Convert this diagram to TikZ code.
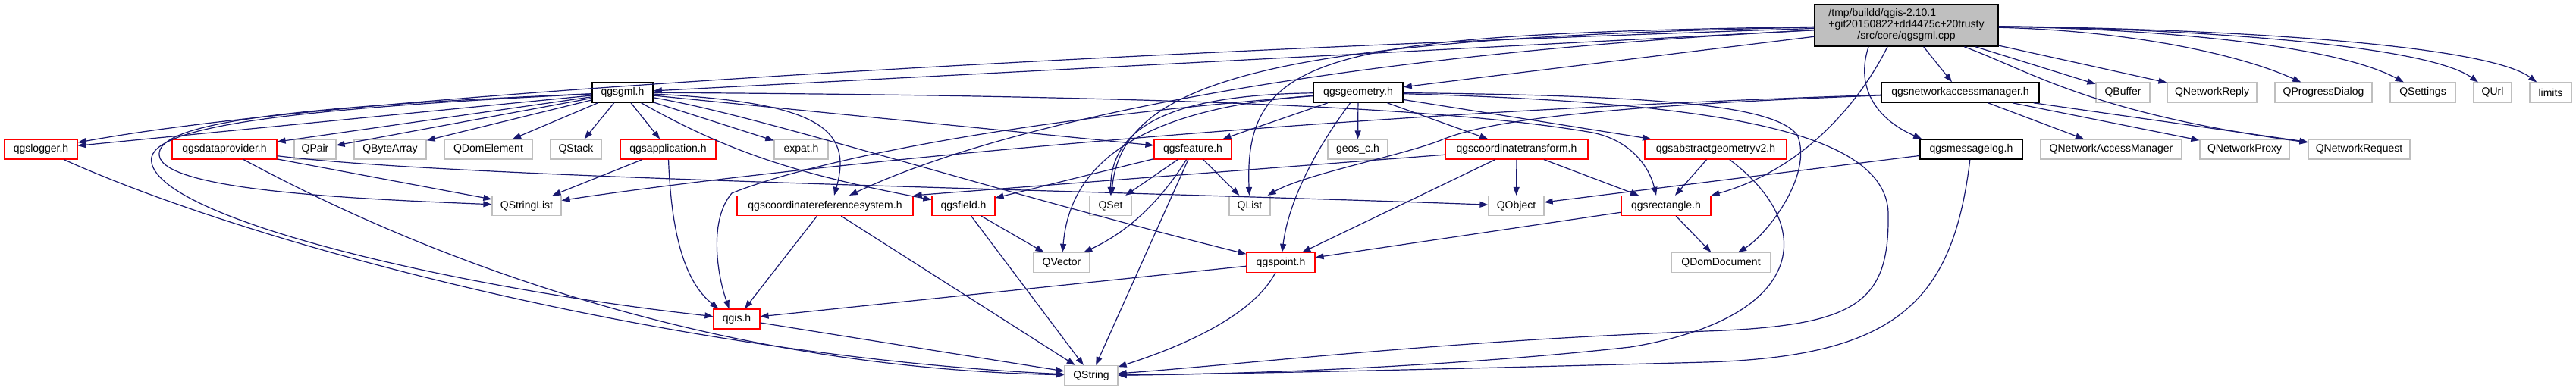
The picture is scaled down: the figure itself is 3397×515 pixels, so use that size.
\documentclass[tikz,border=0pt]{standalone}
\usepackage{fontspec}
\setmainfont{Liberation Sans}
\usetikzlibrary{arrows.meta}

\definecolor{edgeblue}{HTML}{191970}
\definecolor{boxgrey}{HTML}{BFBFBF}

\begin{document}
\begin{tikzpicture}[
        x=1pt, y=-1pt,
        box/.style={rectangle, draw=black, line width=1.6pt, fill=white, inner sep=0pt, minimum height=26pt, align=center, font=\fontsize{14}{16}\selectfont},
        redbox/.style={box, draw=red, line width=1.2pt},
        greybox/.style={box, draw=boxgrey, line width=1.2pt},
        arrow/.style={-{Triangle[length=11pt,width=8pt]}, draw=edgeblue, line width=1.2pt}
    ]
        \path[fill=white] (0,0) rectangle (3397,515);
        \useasboundingbox (0,0) rectangle (3397,515);

        % Nodes
        \node[box, fill=boxgrey, minimum width=242pt, minimum height=55pt, font=\fontsize{14}{14.7}\selectfont] (root) at (2514,33.5)
            {\begin{tabular}{@{}l@{}}/tmp/buildd/qgis-2.10.1\\+git20150822+dd4475c+20trusty\\\multicolumn{1}{@{}c@{}}{/src/core/qgsgml.cpp}\end{tabular}};

        \node[box, minimum width=80pt] (gml) at (821,122) {qgsgml.h};
        \node[box, minimum width=118pt] (geometry) at (1791,122) {qgsgeometry.h};
        \node[box, minimum width=208pt] (netmanager) at (2585,122) {qgsnetworkaccessmanager.h};
        \node[greybox, minimum width=71pt] (qbuffer) at (2799.5,122) {QBuffer};
        \node[greybox, minimum width=118pt] (qreply) at (2917,122) {QNetworkReply};
        \node[greybox, minimum width=128pt] (qprogress) at (3064,122) {QProgressDialog};
        \node[greybox, minimum width=86pt] (qsettings) at (3195,122) {QSettings};
        \node[greybox, minimum width=50pt] (qurl) at (3287,122) {QUrl};
        \node[greybox, minimum width=55pt] (limits) at (3363.5,122) {limits};

        \node[redbox, minimum width=96pt] (logger) at (54,197) {qgslogger.h};
        \node[redbox, minimum width=138pt] (dataprovider) at (296,197) {qgsdataprovider.h};
        \node[greybox, minimum width=55pt] (qpair) at (415.5,197) {QPair};
        \node[greybox, minimum width=95pt] (qbytearray) at (514.5,197) {QByteArray};
        \node[greybox, minimum width=116pt] (qdomelement) at (644,197) {QDomElement};
        \node[greybox, minimum width=67pt] (qstack) at (759.5,197) {QStack};
        \node[redbox, minimum width=126pt] (application) at (881,197) {qgsapplication.h};
        \node[greybox, minimum width=71pt] (expat) at (1056.5,197) {expat.h};
        \node[redbox, minimum width=102pt] (feature) at (1573,197) {qgsfeature.h};
        \node[greybox, minimum width=79pt] (geos) at (1790.5,197) {geos\_c.h};
        \node[redbox, minimum width=188pt] (ctransform) at (2000,197) {qgscoordinatetransform.h};
        \node[redbox, minimum width=187pt] (absgeom) at (2262.5,197) {qgsabstractgeometryv2.h};
        \node[box, minimum width=135pt] (msglog) at (2599.5,197) {qgsmessagelog.h};
        \node[greybox, minimum width=186pt] (qnam) at (2784,197) {QNetworkAccessManager};
        \node[greybox, minimum width=118pt] (qproxy) at (2960,197) {QNetworkProxy};
        \node[greybox, minimum width=134pt] (qrequest) at (3111,197) {QNetworkRequest};

        \node[greybox, minimum width=91pt] (qstringlist) at (694.5,271.5) {QStringList};
        \node[redbox, minimum width=232pt] (crs) at (1088,271.5) {qgscoordinatereferencesystem.h};
        \node[redbox, minimum width=83pt] (field) at (1270.5,271.5) {qgsfield.h};
        \node[greybox, minimum width=55pt] (qset) at (1464.5,271.5) {QSet};
        \node[greybox, minimum width=54pt] (qlist) at (1648,271.5) {QList};
        \node[greybox, minimum width=73pt] (qobject) at (1999.5,271.5) {QObject};
        \node[redbox, minimum width=118pt] (rect) at (2197,271.5) {qgsrectangle.h};

        \node[greybox, minimum width=74pt] (qvector) at (1400,346.5) {QVector};
        \node[redbox, minimum width=90pt] (point) at (1689,346.5) {qgspoint.h};
        \node[greybox, minimum width=131pt] (qdomdoc) at (2269.5,346.5) {QDomDocument};

        \node[redbox, minimum width=61pt] (qgis) at (971.5,421) {qgis.h};
        \node[greybox, minimum width=70pt] (qstring) at (1439,495.5) {QString};

        % Connectors
        % qgsgml.cpp
        \draw[arrow] (root) -- (gml);
        \draw[arrow] (root) .. controls (1700,60) and (500,115) .. (logger);
        \draw[arrow] (root) -- (geometry);
        \draw[arrow] (root) .. controls (1800,70) and (1350,150) .. ([xshift=32pt]crs.north);
        \draw[arrow] (root) .. controls (1700,50) and (1480,100) .. (qset);
        \draw[arrow] (root) .. controls (1750,45) and (1640,70) .. (qlist);
        \draw[arrow] ([xshift=-25pt]root.south) .. controls (2460,120) and (2390,220) .. (rect.north east);
        \draw[arrow] ([xshift=-50pt]root.south) .. controls (2445,120) and (2480,160) .. ([xshift=3pt]msglog.north west);
        \draw[arrow] (root) -- (netmanager);
        \draw[arrow] (root) -- (qbuffer);
        \draw[arrow] (root) -- (qreply);
        \draw[arrow] (root) .. controls (2800,40) and (2950,70) .. (qprogress);
        \draw[arrow] (root) .. controls (2850,38) and (3080,60) .. (qsettings);
        \draw[arrow] (root) .. controls (2900,38) and (3200,60) .. (qurl);
        \draw[arrow] (root) .. controls (2950,38) and (3280,60) .. (limits);
        \draw[arrow] (root) .. controls (2680,95) and (2760,150) .. (qrequest);

        % qgsgml.h
        \draw[arrow] (gml) -- (logger);
        \draw[arrow] (gml) .. controls (400,140) and (205,160) .. (210,205) .. controls (215,250) and (450,262) .. (qstringlist);
        \draw[arrow] (gml) .. controls (350,145) and (190,170) .. (200,215) .. controls (215,290) and (600,380) .. (qgis);
        \draw[arrow] (gml) -- (dataprovider);
        \draw[arrow] (gml) -- (qpair);
        \draw[arrow] (gml) -- (qbytearray);
        \draw[arrow] (gml) -- (qdomelement);
        \draw[arrow] (gml) -- (qstack);
        \draw[arrow] (gml) -- (application);
        \draw[arrow] (gml) -- (expat);
        \draw[arrow] (gml) -- (feature);
        \draw[arrow] (gml) .. controls (1080,135) and (1125,170) .. ([xshift=12pt]crs.north);
        \draw[arrow] (gml) .. controls (960,200) and (1050,230) .. (field);
        \draw[arrow] (gml) .. controls (1000,152) and (1300,250) .. (point);
        \draw[arrow] (gml) .. controls (1500,126) and (1900,140) .. (2100,175) .. controls (2150,185) and (2175,220) .. ([xshift=-13pt]rect.north);

        % qgsgeometry.h
        \draw[arrow] (geometry) -- (feature);
        \draw[arrow] (geometry) -- (geos);
        \draw[arrow] (geometry) -- (ctransform);
        \draw[arrow] (geometry) -- (absgeom);
        \draw[arrow] (geometry) .. controls (1740,190) and (1700,260) .. (point);
        \draw[arrow] (geometry) .. controls (1560,125) and (1465,160) .. (qset);
        \draw[arrow] (geometry) .. controls (1480,145) and (1410,230) .. (qvector);
        \draw[arrow] (geometry) .. controls (1300,160) and (1050,220) .. (965,255) .. controls (935,290) and (945,360) .. ([xshift=-10pt]qgis.north);
        \draw[arrow] (geometry) .. controls (2200,126) and (2340,140) .. (2370,178) .. controls (2392,230) and (2330,310) .. (qdomdoc);
        \draw[arrow] (geometry) .. controls (2250,135) and (2485,170) .. (2490,280) .. controls (2492,400) and (2450,430) .. (2250,437) .. controls (1900,450) and (1650,480) .. (qstring);

        % qgsnetworkaccessmanager.h
        \draw[arrow] (netmanager) -- (qnam);
        \draw[arrow] (netmanager) -- (qproxy);
        \draw[arrow] (netmanager) -- (qrequest);
        \draw[arrow] (netmanager) .. controls (1700,150) and (1000,225) .. (qstringlist);
        \draw[arrow] (netmanager) .. controls (2100,140) and (1960,160) .. (1900,185) .. controls (1850,205) and (1720,230) .. (qlist);

        % qgsmessagelog.h
        \draw[arrow] (msglog) -- (qobject);
        \draw[arrow] (msglog) .. controls (2575,400) and (2500,470) .. (2250,478) .. controls (1950,486) and (1700,492) .. (qstring);

        % qgsabstractgeometryv2.h
        \draw[arrow] (absgeom) -- (rect);
        \draw[arrow] (absgeom) .. controls (2400,300) and (2380,420) .. (2150,458) .. controls (1950,480) and (1700,493) .. (qstring);

        % qgscoordinatetransform.h
        \draw[arrow] (ctransform) -- (qobject);
        \draw[arrow] (ctransform) -- (rect);
        \draw[arrow] (ctransform) -- (point);
        \draw[arrow] (ctransform) -- (crs.north east);

        % qgsfeature.h
        \draw[arrow] (feature) -- (field);
        \draw[arrow] (feature) -- (qset);
        \draw[arrow] (feature) -- (qlist);
        \draw[arrow] (feature) .. controls (1540,250) and (1500,300) .. (qvector);
        \draw[arrow] (feature) -- (qstring);

        % headers further down
        \draw[arrow] (field) -- (qvector);
        \draw[arrow] (field) -- (qstring);
        \draw[arrow] (crs) -- (qgis);
        \draw[arrow] (crs) -- (qstring);
        \draw[arrow] (rect) -- (point);
        \draw[arrow] (rect) -- (qdomdoc);
        \draw[arrow] (point) -- (qgis);
        \draw[arrow] (point) .. controls (1650,420) and (1550,460) .. (qstring);
        \draw[arrow] (qgis) -- (qstring);
        \draw[arrow] (application) -- (qstringlist);
        \draw[arrow] (application) .. controls (885,300) and (900,370) .. ([xshift=-24pt]qgis.north);
        \draw[arrow] (dataprovider) -- (qstringlist);
        \draw[arrow] (dataprovider) .. controls (600,235) and (1400,250) .. (qobject);
        \draw[arrow] (dataprovider) .. controls (580,350) and (950,485) .. (qstring);
        \draw[arrow] (logger) .. controls (350,330) and (900,470) .. (qstring);
    \end{tikzpicture}
\end{document}
